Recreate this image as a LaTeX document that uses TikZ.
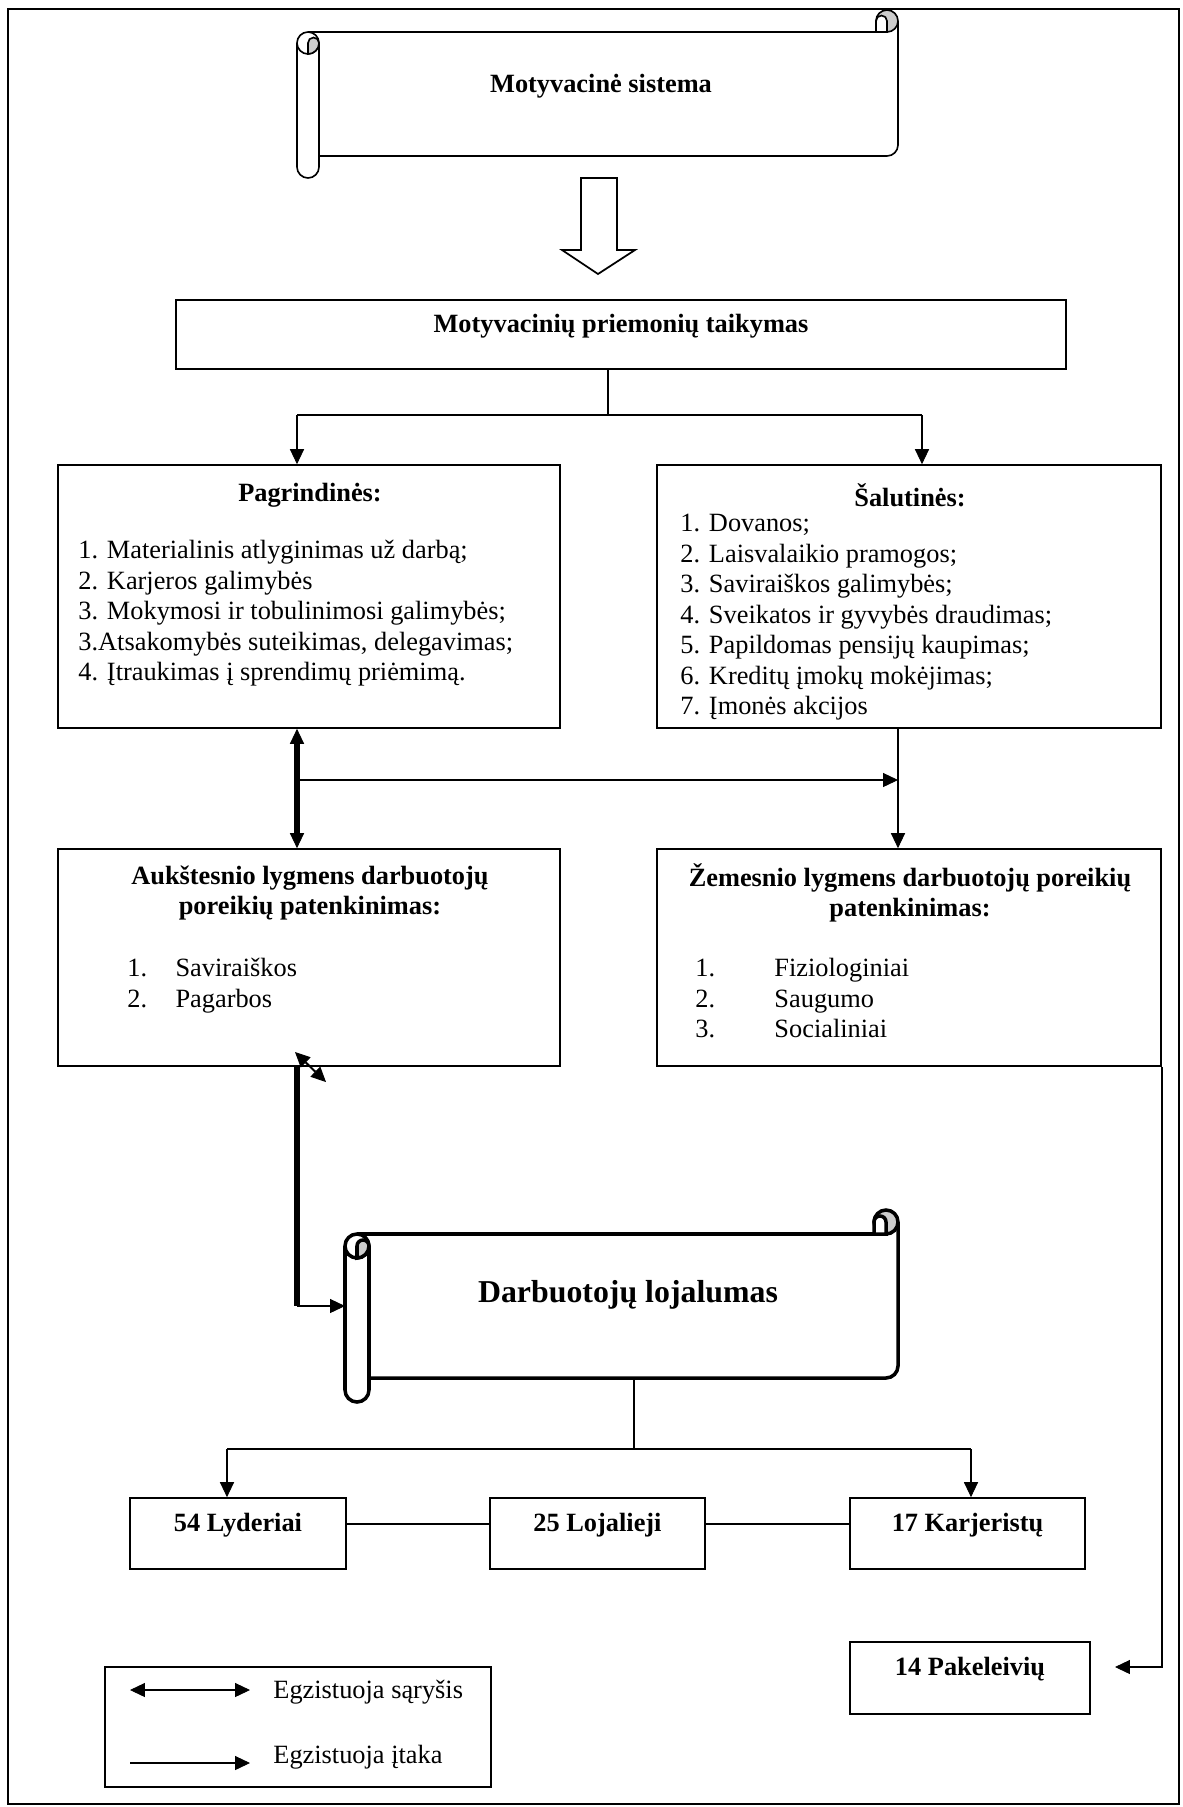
\documentclass[tikz,border=0pt]{standalone}
\usepackage{fontspec}
\setmainfont{Liberation Serif}
\usetikzlibrary{arrows.meta}
\colorlet{scrollgray}{gray!40}

\newcommand{\drawscroll}[6][]{%
  \begin{scope}[#1]
    \pgfmathsetmacro{\scrL}{#2}
    \pgfmathsetmacro{\scrT}{#3}
    \pgfmathsetmacro{\scrR}{#4}
    \pgfmathsetmacro{\scrB}{#5}
    \pgfmathsetmacro{\scrr}{#6}
    \draw (\scrR,\scrT+\scrr) -- (\scrR,\scrB-3*\scrr) arc (0:90:\scrr) -- (\scrL+2*\scrr,\scrB-2*\scrr);
    \draw (\scrL+\scrr,\scrT+2*\scrr) -- (\scrR-2*\scrr,\scrT+2*\scrr);
    \draw[fill=scrollgray] (\scrR-\scrr,\scrT+\scrr) circle[radius=\scrr];
    \draw[fill=white] (\scrR-2*\scrr,\scrT+\scrr) -- (\scrR-2*\scrr,\scrT+2*\scrr) -- (\scrR-\scrr,\scrT+2*\scrr) -- (\scrR-\scrr,\scrT+\scrr) arc (0:-180:\scrr/2) -- cycle;
    \draw[fill=white] (\scrL,\scrT+3*\scrr) -- (\scrL,\scrB-\scrr) arc (180:0:\scrr) -- (\scrL+2*\scrr,\scrT+3*\scrr);
    \draw (\scrL+\scrr,\scrT+3*\scrr) circle[radius=\scrr];
    \draw[fill=scrollgray] (\scrL+\scrr,\scrT+4*\scrr) -- (\scrL+\scrr,\scrT+3*\scrr) arc (180:360:\scrr/2) arc (0:90:\scrr) -- cycle;
  \end{scope}}

\begin{document}
\begin{tikzpicture}[x=0.016cm,y=-0.016cm,
    >={Triangle[length=6.8pt,width=6.4pt,line width=0.4pt]},
    font=\fontsize{12}{13.9}\selectfont,
    box/.style={draw,line width=0.8pt,inner sep=0pt},
    labelbox/.style={box,font=\fontsize{12}{13.9}\selectfont\bfseries,text depth=10.5pt},
    link/.style={line width=0.9pt},
    boldlink/.style={line width=2.6pt},
    listtext/.style={anchor=north west,align=left,inner sep=0pt}]

    \useasboundingbox (0,0) rectangle (1182,1807);
    \draw[line width=1.3pt] (8,9) rectangle (1179,1804);

    \drawscroll[line width=0.75pt]{297}{10}{898}{178}{11}
    \node (sistema) at (601,86) {\bfseries Motyvacinė sistema};

    \draw[line width=0.8pt] (581,178) -- (617,178) -- (617,250) -- (635,250) -- (598,274) -- (562,250) -- (581,250) -- cycle;

    \node (taikymas) at (621,334.5) [labelbox,minimum width=14.24cm,minimum height=1.104cm] {Motyvacinių priemonių taikymas};

    \node (pagr) at (309,596.5) [box,minimum width=8.032cm,minimum height=4.208cm] {};
    \node (pagrtitle) at (310,495) {\bfseries Pagrindinės:};
    \node (pagrlist) at (78,540) [listtext] {1. Materialinis atlyginimas už darbą;\\2. Karjeros galimybės\\3. Mokymosi ir tobulinimosi galimybės;\\3.Atsakomybės suteikimas, delegavimas;\\4. Įtraukimas į sprendimų priėmimą.};

    \node (salut) at (909,596.5) [box,minimum width=8.064cm,minimum height=4.208cm] {};
    \node (saluttitle) at (910,495) {\bfseries Šalutinės:};
    \node (salutlist) at (680,514) [listtext] {1. Dovanos;\\2. Laisvalaikio pramogos;\\3. Saviraiškos galimybės;\\4. Sveikatos ir gyvybės draudimas;\\5. Papildomas pensijų kaupimas;\\6. Kreditų įmokų mokėjimas;\\7. Įmonės akcijos};

    \node (aukst) at (309,957.5) [box,minimum width=8.032cm,minimum height=3.472cm] {};
    \node (auksttitle) at (310,893) [align=center,font=\fontsize{12}{13.9}\selectfont\bfseries] {Aukštesnio lygmens darbuotojų\\poreikių patenkinimas:};
    \node (aukstlist) at (127,958) [listtext] {\makebox[21.9pt][l]{1.}Saviraiškos\\\makebox[21.9pt][l]{2.}Pagarbos};

    \node (zemes) at (909,957.5) [box,minimum width=8.064cm,minimum height=3.472cm] {};
    \node (zemestitle) at (910,893) [align=center,font=\fontsize{12}{13.9}\selectfont\bfseries] {Žemesnio lygmens darbuotojų poreikių\\patenkinimas:};
    \node (zemeslist) at (695,958) [listtext] {\makebox[36pt][l]{1.}Fiziologiniai\\\makebox[36pt][l]{2.}Saugumo\\\makebox[36pt][l]{3.}Socialiniai};

    \coordinate (fork) at (608,415);
    \coordinate (forkl) at (297,415);
    \coordinate (forkr) at (922,415);
    \draw[link] (taikymas.south -| fork) to (fork);
    \draw[link] (forkl) to (forkr);
    \draw[link,->] (forkl) to (forkl |- pagr.north);
    \draw[link,->] (forkr) to (forkr |- salut.north);

    \coordinate (mid) at (297,780);
    \coordinate (rdrop) at (898,780);
    \draw[boldlink,<->] (pagr.south -| mid) to (aukst.north -| mid);
    \draw[link,->] (mid) to (rdrop);
    \draw[link,->] (salut.south -| rdrop) to (zemes.north -| rdrop);

    \drawscroll[line width=1.6pt]{345}{1210}{898}{1402}{12}
    \node (lojalumas) at (628,1295) {\fontsize{14.5}{16}\selectfont\bfseries Darbuotojų lojalumas};
    \coordinate (lojalin) at (345,1306);
    \coordinate (lojalbot) at (634,1378);

    \coordinate (lbend) at (297,1306);
    \coordinate (oddA) at (295,1052);
    \coordinate (oddB) at (326,1082);
    \draw[boldlink] (aukst.south -| lbend) to (lbend);
    \draw[link,->] (lbend) to (lojalin);
    \draw[link,<->] (oddA) to (oddB);

    \node (lyder) at (238,1533.5) [labelbox,minimum width=3.456cm,minimum height=1.136cm] {54 Lyderiai};
    \node (lojal) at (597.5,1533.5) [labelbox,minimum width=3.44cm,minimum height=1.136cm] {25 Lojalieji};
    \node (karjer) at (967.5,1533.5) [labelbox,minimum width=3.76cm,minimum height=1.136cm] {17 Karjeristų};
    \node (pakel) at (970,1678) [labelbox,minimum width=3.84cm,minimum height=1.152cm] {14 Pakeleivių};

    \coordinate (fork2) at (634,1449);
    \coordinate (fork2l) at (227,1449);
    \coordinate (fork2r) at (971,1449);
    \coordinate (row) at (0,1524);
    \draw[link] (lojalbot) to (fork2);
    \draw[link] (fork2l) to (fork2r);
    \draw[link,->] (fork2l) to (fork2l |- lyder.north);
    \draw[link,->] (fork2r) to (fork2r |- karjer.north);
    \draw[link] (lyder.east |- row) to (lojal.west |- row);
    \draw[link] (lojal.east |- row) to (karjer.west |- row);

    \coordinate (ptip) at (1115,1667);
    \draw[link,->] (zemes.south east) |- (ptip);

    \node (legend) at (298,1727) [box,minimum width=6.176cm,minimum height=1.92cm] {};
    \coordinate (relA) at (130,1690);
    \coordinate (relB) at (250,1690);
    \coordinate (infA) at (130,1763);
    \coordinate (infB) at (250,1763);
    \draw[link,<->] (relA) to (relB);
    \draw[link,->] (infA) to (infB);
    \node (reltext) at (273,1692) [anchor=west,inner sep=0pt] {Egzistuoja sąryšis};
    \node (inftext) at (273,1757) [anchor=west,inner sep=0pt] {Egzistuoja įtaka};

\end{tikzpicture}
\end{document}
